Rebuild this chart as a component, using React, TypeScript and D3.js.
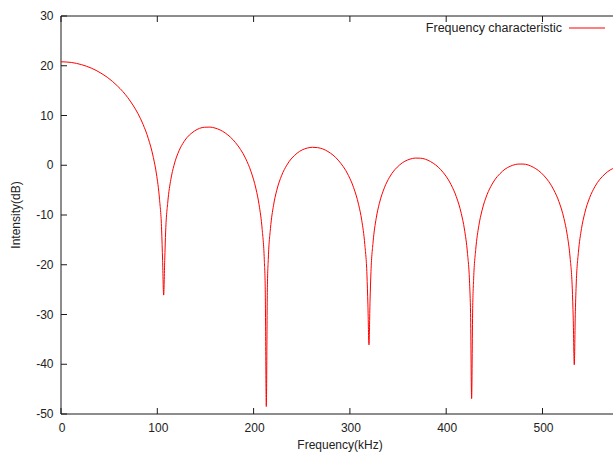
import React from 'react';
import * as d3 from 'd3';

const xTicks = [0, 100, 200, 300, 400, 500, 600];
const xTickLabels = [0, 100, 200, 300, 400, 500];
const yTicks = [-50, -40, -30, -20, -10, 0, 10, 20, 30];
const seriesName = 'Frequency characteristic';
const xTitle = 'Frequency(kHz)';
const yTitle = 'Intensity(dB)';

// [frequency kHz, intensity dB]
const mainLobe: [number, number][] = [
  [0, 20.8], [5.3, 20.76], [10.7, 20.66], [16.0, 20.48], [21.3, 20.22], [26.7, 19.89], [32.0, 19.48],
  [37.3, 18.98], [42.6, 18.38], [48.0, 17.69], [53.3, 16.88], [58.6, 15.94], [64.0, 14.86], [69.3, 13.6],
  [74.6, 12.12], [80.0, 10.35], [85.3, 8.18], [90.6, 5.41], [95.9, 1.57], [99.1, -1.74], [102.3, -6.83],
  [104.5, -13.01], [105.5, -19.12], [106.6, -26.1],
];
const sidelobe1: [number, number][] = [
  [107.7, -19.15], [108.7, -13.21], [110.9, -7.38], [114.1, -2.82], [117.3, -0.03], [122.6, 2.93],
  [127.9, 4.8], [138.6, 6.88], [149.2, 7.64], [154.6, 7.67], [159.9, 7.48], [170.6, 6.48], [181.2, 4.55],
  [191.9, 1.28], [197.2, -1.2], [202.5, -4.78], [205.7, -7.94], [208.9, -12.89], [211.1, -18.97],
  [212.1, -25.04], [213.2, -48.5],
];
const sidelobe2: [number, number][] = [
  [214.3, -24.62], [215.3, -18.65], [217.5, -12.73], [220.7, -8.05], [223.9, -5.14], [229.2, -2.01],
  [234.5, 0.03], [245.2, 2.43], [255.8, 3.46], [261.2, 3.61], [266.5, 3.54], [277.2, 2.76], [287.8, 1.03],
  [298.5, -2.06], [303.8, -4.46], [309.1, -7.95], [312.3, -11.07], [315.5, -15.97], [317.7, -22.03],
  [318.7, -28.07], [319.8, -36.1],
];
const sidelobe3: [number, number][] = [
  [320.9, -27.33], [321.9, -21.34], [324.1, -15.4], [327.3, -10.67], [330.5, -7.73], [335.8, -4.53],
  [341.1, -2.42], [351.8, 0.09], [362.4, 1.23], [367.8, 1.44], [373.1, 1.42], [383.8, 0.73], [394.4, -0.9],
  [405.1, -3.92], [410.4, -6.27], [415.7, -9.72], [418.9, -12.82], [422.1, -17.69], [424.3, -23.74],
  [425.3, -29.78], [426.4, -46.9],
];
const sidelobe4: [number, number][] = [
  [427.5, -28.82], [428.5, -22.83], [430.7, -16.87], [433.9, -12.12], [437.1, -9.16], [442.4, -5.92],
  [447.7, -3.79], [458.4, -1.21], [469.0, -0.01], [474.4, 0.23], [479.7, 0.24], [490.4, -0.4], [501.0, -1.98],
  [511.7, -4.95], [517.0, -7.28], [522.3, -10.7], [525.5, -13.79], [528.7, -18.65], [530.9, -24.69],
  [531.9, -30.72], [533.0, -40.1],
];
const sidelobe5: [number, number][] = [
  [534.1, -29.46], [535.1, -23.45], [537.3, -17.49], [540.5, -12.73], [543.7, -9.75], [549.0, -6.5],
  [554.3, -4.34], [565.0, -1.73], [575.6, -0.49], [586.3, -0.21], [597.0, -0.8], [607.6, -2.36],
];

const W = 613;
const H = 452;
const FONT = '"Liberation Sans", Arial, Helvetica, sans-serif';
const TXT = '#222';

export default function App() {
  const x = d3.scaleLinear().domain([0, 600]).range([61, 61 + 577.8]);
  const y = d3.scaleLinear().domain([-50, 30]).range([414, 16]);
  const data = [...mainLobe, ...sidelobe1, ...sidelobe2, ...sidelobe3, ...sidelobe4, ...sidelobe5];
  const line = d3
    .line<[number, number]>()
    .x((d) => x(d[0]))
    .y((d) => y(d[1]))
    .curve(d3.curveMonotoneX);
  const x0 = x(0);
  const x1 = x(600);
  const tickLen = 6;

  return (
    <svg
      width={W}
      height={H}
      style={{ position: 'absolute', left: 0, top: 0, background: '#fff', overflow: 'hidden' }}
      fontFamily={FONT}
    >
      <rect x={0} y={0} width={W} height={H} fill="#fff" />
      {/* border */}
      <g stroke="#1a1a1a" strokeWidth={1} fill="none">
        <line x1={x0} x2={x0} y1={y(30)} y2={y(-50)} />
        <line x1={x1} x2={x1} y1={y(30)} y2={y(-50)} />
        <line x1={x0} x2={x1} y1={y(-50)} y2={y(-50)} />
        <line x1={x0} x2={x1} y1={y(30)} y2={y(30)} />
        {yTicks.map((t) => (
          <line key={'yt' + t} x1={x0} x2={x0 + tickLen} y1={y(t)} y2={y(t)} />
        ))}
        {xTicks.map((t) => (
          <g key={'xt' + t}>
            <line x1={x(t)} x2={x(t)} y1={y(-50)} y2={y(-50) - tickLen} />
            <line x1={x(t)} x2={x(t)} y1={y(30)} y2={y(30) + tickLen} />
          </g>
        ))}
      </g>
      {/* tick labels */}
      <g fontSize={12} fill={TXT}>
        {yTicks.map((t) => (
          <text key={'yl' + t} x={53.5} y={y(t)} dy="0.35em" textAnchor="end">
            {t}
          </text>
        ))}
        {xTickLabels.map((t) => (
          <text key={'xl' + t} x={x(t) + 1} y={431.5} textAnchor="middle">
            {t}
          </text>
        ))}
      </g>
      {/* axis titles */}
      <text x={340} y={449} fontSize={12} fill={TXT} textAnchor="middle">
        {xTitle}
      </text>
      <text
        transform={`translate(20, ${(y(30) + y(-50)) / 2}) rotate(-90)`}
        fontSize={12}
        fill={TXT}
        textAnchor="middle"
      >
        {yTitle}
      </text>
      {/* curve */}
      <path d={line(data) || ''} fill="none" stroke="#ff0000" strokeWidth={1} />
      {/* legend */}
      <text x={562} y={31.5} fontSize={12.5} fill={TXT} textAnchor="end">
        {seriesName}
      </text>
      <line x1={569} x2={605} y1={28} y2={28} stroke="#ff0000" strokeWidth={1} />
    </svg>
  );
}
